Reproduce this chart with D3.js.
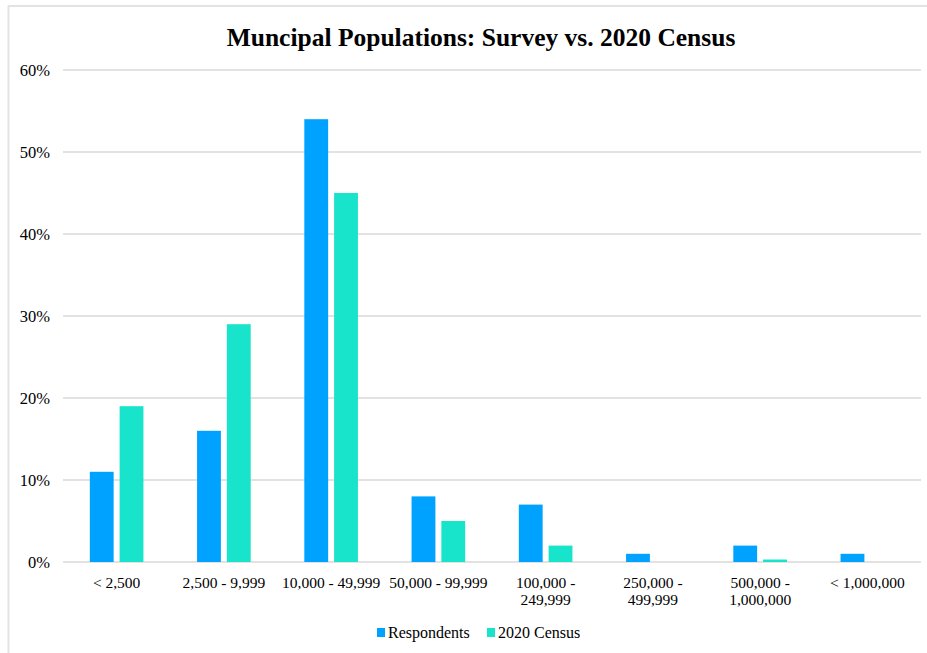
<!DOCTYPE html>
<html>
<head>
<meta charset="utf-8">
<script src="https://cdn.jsdelivr.net/npm/d3@7"></script>
<style>
  html, body { margin: 0; padding: 0; background: #fff; }
  svg { display: block; }
  text { font-family: "Liberation Serif", "Times New Roman", serif; fill: #000; }
</style>
</head>
<body>
<svg id="chart" width="927" height="653"></svg>
<script>
const categories = [["< 2,500"], ["2,500 - 9,999"], ["10,000 - 49,999"], ["50,000 - 99,999"],
  ["100,000 -", "249,999"], ["250,000 -", "499,999"], ["500,000 -", "1,000,000"], ["< 1,000,000"]];
const seriesNames = ["Respondents", "2020 Census"];
const respondents = [11, 16, 54, 8, 7, 1, 2, 1];
const census = [19, 29, 45, 5, 2, 0, 0.3, 0];
const yTicks = [0, 10, 20, 30, 40, 50, 60];
const colors = ["#00a2ff", "#18e3cb"];
const title = "Muncipal Populations: Survey vs. 2020 Census";

const svg = d3.select("#chart");
const mLeft = 63, mRight = 921, mTop = 70, mBottom = 562;

// outer chart border (extends beyond view on right/bottom)
svg.append("rect").attr("x", 8.5).attr("y", 6).attr("width", 940).attr("height", 700)
  .attr("fill", "none").attr("stroke", "#e3e3e3").attr("stroke-width", 2);

svg.append("text").attr("x", 481).attr("y", 46).attr("text-anchor", "middle")
  .style("font-size", "25.5px").style("font-weight", "bold").text(title);

const catKeys = categories.map(c => c.join(" "));
const x0 = d3.scaleBand().domain(catKeys).range([mLeft, mRight]).paddingInner(0.5).paddingOuter(0.25);
const x1 = d3.scaleBand().domain(seriesNames).range([0, x0.bandwidth()]).paddingInner(0.2);
const y = d3.scaleLinear().domain([0, 60]).range([mBottom, mTop]);

// gridlines
svg.append("g").selectAll("line").data(yTicks).join("line")
  .attr("x1", mLeft).attr("x2", mRight)
  .attr("y1", d => y(d)).attr("y2", d => y(d))
  .attr("stroke", "#d9d9d9").attr("stroke-width", 1.5);

// y labels
svg.append("g").selectAll("text").data(yTicks).join("text")
  .attr("x", 50).attr("y", d => y(d) + 6).attr("text-anchor", "end")
  .style("font-size", "16.5px").text(d => d + "%");

const data = categories.map((c, i) => ({ key: catKeys[i], lines: c, vals: [respondents[i], census[i]] }));

const groups = svg.append("g").selectAll("g").data(data).join("g")
  .attr("transform", d => `translate(${x0(d.key)},0)`);
groups.selectAll("rect").data(d => d.vals.map((v, j) => ({ v, s: seriesNames[j], j }))).join("rect")
  .attr("x", d => x1(d.s)).attr("width", x1.bandwidth())
  .attr("y", d => y(d.v)).attr("height", d => y(0) - y(d.v))
  .attr("fill", d => colors[d.j]);

// x labels
const xl = svg.append("g").selectAll("text").data(data).join("text")
  .attr("text-anchor", "middle").style("font-size", "15.5px")
  .attr("transform", d => `translate(${x0(d.key) + x0.bandwidth() / 2},${mBottom + 26})`);
xl.selectAll("tspan").data(d => d.lines).join("tspan")
  .attr("x", 0).attr("dy", (d, i) => i === 0 ? 0 : 17).text(d => d);

// legend
const legend = svg.append("g");
const lx = [377, 487];
seriesNames.forEach((s, i) => {
  legend.append("rect").attr("x", lx[i]).attr("y", 628).attr("width", 8).attr("height", 9).attr("fill", colors[i]);
  legend.append("text").attr("x", lx[i] + 11).attr("y", 638).style("font-size", "16px").text(s);
});
</script>
</body>
</html>
